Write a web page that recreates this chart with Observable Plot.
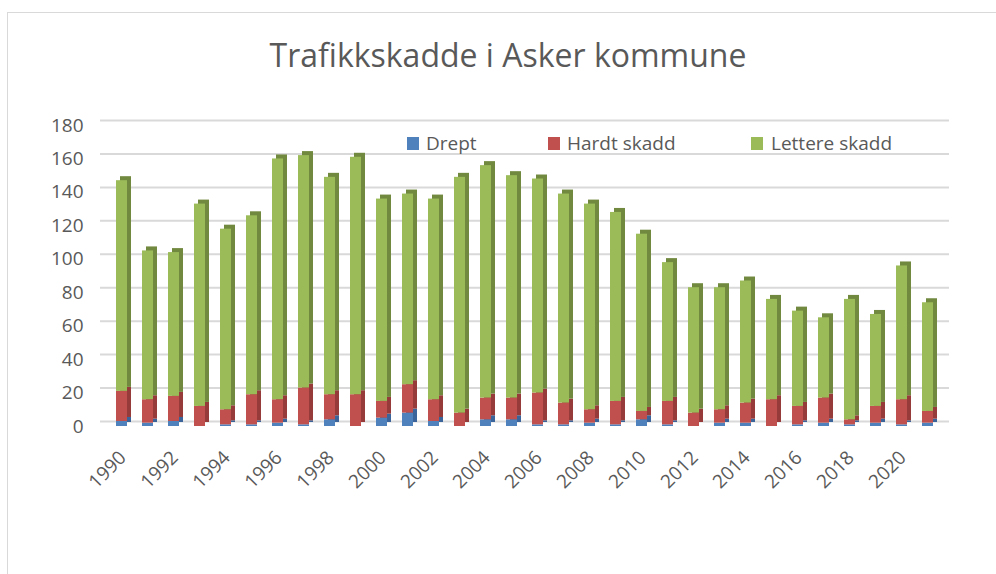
<!DOCTYPE html>
<html>
<head>
<meta charset="utf-8">
<script src="https://cdn.jsdelivr.net/npm/d3@7"></script>
<script src="https://cdn.jsdelivr.net/npm/@observablehq/plot@0.6"></script>
<style>
  html, body { margin: 0; padding: 0; background: #fff; }
  #wrap { position: relative; width: 996px; height: 574px; overflow: hidden; font-family: "Open Sans", sans-serif; color: #595959; }
  #frame { position: absolute; left: 7px; top: 12px; width: 1000px; height: 600px; border: 1.5px solid #d9d9d9; box-sizing: border-box; }
  #title { position: absolute; left: 0; width: 1016px; top: 33px; text-align: center; font-size: 32px; line-height: normal; white-space: nowrap; }
  .leg { position: absolute; top: 130px; font-size: 19px; line-height: normal; white-space: nowrap; }
  #chart { position: absolute; left: 0; top: 0; }
</style>
</head>
<body>
<div id="wrap">
  <div id="frame"></div>
  <div id="chart"></div>
  <div id="title">Trafikkskadde i Asker kommune</div>
  <div id="legend"></div>
</div>
<script>
const years = [1990,1991,1992,1993,1994,1995,1996,1997,1998,1999,2000,2001,2002,2003,2004,2005,2006,2007,2008,2009,2010,2011,2012,2013,2014,2015,2016,2017,2018,2019,2020,2021];
const drept = [3,2,3,0,1,1,2,1,4,0,5,8,3,0,4,4,1,1,2,1,4,1,0,2,2,0,1,2,1,2,1,2];
const hardtSkadd = [18,14,15,12,9,18,14,22,15,19,10,17,13,8,13,13,19,13,8,14,5,14,8,8,12,16,11,15,3,10,15,7];
const lettereSkadd = [126,89,86,121,108,107,144,139,130,142,121,114,120,141,139,133,128,125,123,113,106,83,75,73,73,60,57,48,72,55,80,65];
const seriesNames = ["Drept", "Hardt skadd", "Lettere skadd"];
const frontColors = ["#4F81BD", "#C0504D", "#9BBB59"];
const sideColors = ["#3B659A", "#963B39", "#71893F"];
const yTicks = [0,20,40,60,80,100,120,140,160,180];
const xTickLabels = years.filter(y => y % 2 === 0);

const rows = [];
years.forEach((y, i) => {
  rows.push({year: y, series: seriesNames[0], value: drept[i]});
  rows.push({year: y, series: seriesNames[1], value: hardtSkadd[i]});
  rows.push({year: y, series: seriesNames[2], value: lettereSkadd[i]});
});

const sideScale = d3.scaleOrdinal(seriesNames, sideColors);

const chart = Plot.plot({
  width: 996,
  height: 574,
  marginTop: 125,
  marginBottom: 148,
  marginLeft: 100,
  marginRight: 47,
  style: {fontFamily: "'Open Sans', sans-serif", fontSize: "19px", color: "#595959", background: "transparent"},
  x: {type: "band", domain: years, padding: 0.57, label: null, axis: null},
  y: {domain: [0, 180], label: null},
  color: {domain: seriesNames, range: frontColors},
  marks: [
    Plot.ruleY(yTicks, {stroke: "#d9d9d9", strokeWidth: 2, dy: -5}),
    Plot.axisY({ticks: yTicks, tickSize: 0, tickPadding: 17, label: null, fill: "#595959"}),
    Plot.text(xTickLabels, {x: d => d, text: d => String(d), frameAnchor: "bottom", rotate: -45, textAnchor: "end", lineAnchor: "middle", dy: 28, dx: 1, fill: "#595959", fontSize: 19}),
    Plot.barY(rows, {x: "year", y: "value", order: seriesNames, fill: d => sideScale(d.series), dx: 4, dy: -4}),
    Plot.barY(rows, {x: "year", y: "value", order: seriesNames, fill: "series"})
  ]
});
document.getElementById("chart").appendChild(chart);

const legendPos = [{sw: 407, tx: 426}, {sw: 548, tx: 567}, {sw: 751, tx: 771}];
const legend = document.getElementById("legend");
seriesNames.forEach((name, i) => {
  const sw = document.createElement("div");
  sw.style.cssText = `position:absolute;left:${legendPos[i].sw}px;top:137px;width:12px;height:13px;background:${frontColors[i]}`;
  legend.appendChild(sw);
  const t = document.createElement("div");
  t.className = "leg";
  t.style.left = legendPos[i].tx + "px";
  t.textContent = name;
  legend.appendChild(t);
});
</script>
</body>
</html>
